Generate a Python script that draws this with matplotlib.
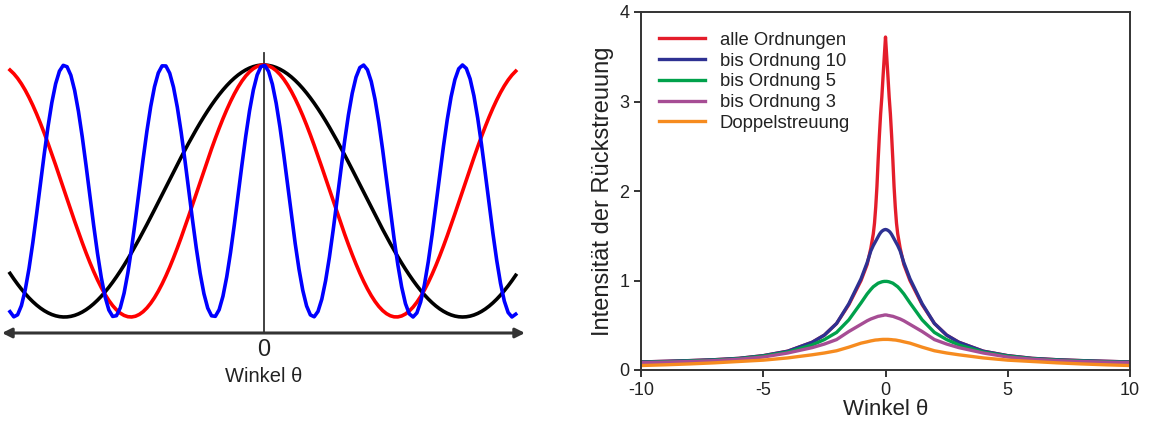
import numpy as np
import matplotlib
matplotlib.use("Agg")
import matplotlib.pyplot as plt

plt.rcParams['font.family'] = ['Liberation Sans', 'DejaVu Sans']

# ---------------- data ----------------
# left panel: schematic cosine waves, frequencies
wave_names = ["einfach", "mittel", "schnell"]
wave_freqs = [1.0, 1.5, 4.0]
wave_colors = ["#000000", "#ff0000", "#0000ff"]
wave_x_range = [-4.0, 4.0]
wave_step = 0.06

# right panel: backscattering intensity vs angle
theta = [-10, -9, -8, -7, -6, -5, -4, -3, -2.5, -2, -1.5, -1, -0.75, -0.6, -0.5,
         -0.45, -0.4, -0.35, -0.3, -0.25, -0.2, -0.15, -0.1, -0.05, 0,
         0.05, 0.1, 0.15, 0.2, 0.25, 0.3, 0.35, 0.4, 0.45,
         0.5, 0.6, 0.75, 1, 1.5, 2, 2.5, 3, 4, 5, 6, 7, 8, 9, 10]

alle_half = [3.72, 3.50, 3.28, 3.05, 2.86, 2.62, 2.35, 2.05, 1.82, 1.64,
             1.52, 1.36, 1.18, 1.0, 0.73, 0.52, 0.39, 0.31, 0.21, 0.16, 0.13, 0.115, 0.105, 0.097, 0.09]
ord10_half = [1.57, 1.567, 1.56, 1.55, 1.535, 1.515, 1.49, 1.465, 1.44, 1.415,
              1.39, 1.33, 1.20, 1.02, 0.74, 0.52, 0.39, 0.31, 0.21, 0.16, 0.13, 0.115, 0.105, 0.097, 0.09]
ord5_half = [0.99, 0.99, 0.988, 0.985, 0.98, 0.975, 0.97, 0.96, 0.95, 0.94,
             0.93, 0.90, 0.85, 0.75, 0.56, 0.42, 0.34, 0.28, 0.20, 0.155, 0.125, 0.11, 0.10, 0.092, 0.085]
ord3_half = [0.615, 0.614, 0.61, 0.608, 0.605, 0.602, 0.60, 0.595, 0.59, 0.585,
             0.58, 0.57, 0.55, 0.51, 0.43, 0.34, 0.29, 0.25, 0.19, 0.145, 0.12, 0.105, 0.095, 0.088, 0.082]
doppel_half = [0.342, 0.342, 0.342, 0.341, 0.34, 0.339, 0.337, 0.336, 0.335, 0.333,
               0.33, 0.325, 0.315, 0.30, 0.255, 0.215, 0.19, 0.17, 0.135, 0.11, 0.095, 0.08, 0.068, 0.058, 0.05]

def mirror(half):
    # curves are symmetric in theta: values listed from theta=0 outward
    return list(reversed(half[1:])) + list(half)

alle = mirror(alle_half)
ord10 = mirror(ord10_half)
ord5 = mirror(ord5_half)
ord3 = mirror(ord3_half)
doppel = mirror(doppel_half)

series_labels = ["alle Ordnungen", "bis Ordnung 10", "bis Ordnung 5", "bis Ordnung 3", "Doppelstreuung"]
series_values = [alle, ord10, ord5, ord3, doppel]
series_colors = ["#e41d2b", "#2e3192", "#00a14b", "#a64d94", "#f68b1f"]

x_ticks = [-10, -5, 0, 5, 10]
y_ticks = [0, 1, 2, 3, 4]

# ---------------- figure ----------------
W, H = 1152, 424
fig = plt.figure(figsize=(W / 100, H / 100), dpi=100)

def px_axes(left, top, right, bottom):
    return fig.add_axes([left / W, 1 - bottom / H, (right - left) / W, (bottom - top) / H])

# left panel
ax1 = px_axes(0, 40, 527, 400)
sx = 507 / 8.0
ax1.set_xlim(-4 - 10 / sx, 4 + 10 / sx)
# rows: y=1 -> 65, y=-1 -> 317  => 126 px per unit, center row 191
ax1.set_ylim((191 - 400) / 126, (191 - 40) / 126)
ax1.axis('off')

xw = np.arange(wave_x_range[0], wave_x_range[1] + wave_step / 2, wave_step)
for f, c in zip(wave_freqs, wave_colors):
    ax1.plot(xw, np.cos(f * xw), color=c, lw=2.6, zorder=3)

y_arrow = (191 - 333) / 126
ax1.plot([0, 0], [y_arrow, (191 - 53) / 126], color="#333333", lw=1.3, zorder=2)
ax1.annotate("", xy=(4 + 8 / sx, y_arrow), xytext=(-4 - 8 / sx, y_arrow),
             arrowprops=dict(arrowstyle="<|-|>", color="#333333", lw=2.2,
                             mutation_scale=14, shrinkA=0, shrinkB=0))
ax1.text(0, (191 - 350) / 126, "0", ha='center', va='center', fontsize=17, color="#222222")
ax1.text(0, (191 - 377) / 126, "Winkel θ", ha='center', va='center', fontsize=14.5, color="#222222")

# right panel
ax2 = px_axes(641, 12, 1130, 370)
for vals, lab, col in zip(series_values, series_labels, series_colors):
    ax2.plot(theta, vals, color=col, lw=2.4, label=lab)
ax2.set_xlim(-10, 10)
ax2.set_ylim(0, 4)
ax2.set_xticks(x_ticks)
ax2.set_yticks(y_ticks)
ax2.set_xticklabels([str(t) for t in x_ticks])
for s in ax2.spines.values():
    s.set_color("#333333")
    s.set_linewidth(1.4)
ax2.tick_params(axis='both', direction='out', length=5, width=1.4, color="#333333",
                labelsize=13, labelcolor="#222222", top=False, right=False)
ax2.set_xlabel("Winkel θ", fontsize=16, color="#222222", labelpad=0)
ax2.set_ylabel("Intensität der Rückstreuung", fontsize=17, color="#222222", labelpad=4)
leg = ax2.legend(loc='upper left', frameon=False, fontsize=13.3, handlelength=2.5,
                 handletextpad=0.8, labelspacing=0.2, borderaxespad=0.0,
                 bbox_to_anchor=(0.021, 0.965))
for t in leg.get_texts():
    t.set_color("#222222")

fig.savefig("out.png", dpi=100)
